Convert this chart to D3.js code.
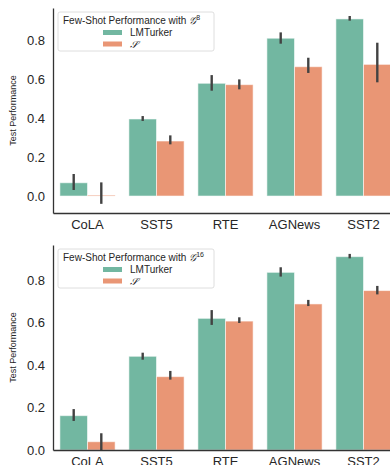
<!DOCTYPE html>
<meta charset="utf-8">
<style>
body { margin: 0; background: #fff; }
text { font-family: 'Liberation Sans', Arial, sans-serif; fill: #262626; }
.tick-label { font-size: 13px; }
.ylabel { font-size: 9px; }
.legend-text { font-size: 10px; }
</style>
<div id="chart"></div>
<script src="https://d3js.org/d3.v7.min.js"></script>
<script>
var tasks = ['CoLA', 'SST5', 'RTE', 'AGNews', 'SST2']
var methods = ['LMTurker', 'S']
var colors = ['#72b7a1', '#e99675']
var yTicks = [0.0, 0.2, 0.4, 0.6, 0.8]

// G^8 panel
var lmt8 = [0.068, 0.395, 0.578, 0.809, 0.908]
var lmt8Lo = [0.031, 0.385, 0.54, 0.781, 0.899]
var lmt8Hi = [0.113, 0.41, 0.62, 0.839, 0.923]
var s8 = [0.005, 0.282, 0.571, 0.663, 0.675]
var s8Lo = [-0.04, 0.265, 0.547, 0.631, 0.583]
var s8Hi = [0.07, 0.311, 0.598, 0.709, 0.786]

// G^16 panel
var lmt16 = [0.162, 0.442, 0.621, 0.838, 0.912]
var lmt16Lo = [0.137, 0.426, 0.59, 0.818, 0.904]
var lmt16Hi = [0.193, 0.459, 0.66, 0.862, 0.925]
var s16 = [0.039, 0.346, 0.608, 0.689, 0.752]
var s16Lo = [0.0, 0.332, 0.599, 0.679, 0.734]
var s16Hi = [0.079, 0.373, 0.626, 0.708, 0.774]

var svg = d3.select('#chart')
  .append('svg')
  .attr('width', 390)
  .attr('height', 465)

function panel(opts) {
  var g = svg.append('g')

  var x = d3.scaleBand()
    .domain(tasks)
    .range([53, 398])
    .paddingInner(0)
    .paddingOuter(0)

  var xInner = d3.scaleBand()
    .domain(methods)
    .range([0, x.bandwidth()])
    .paddingInner(0)
    .paddingOuter(0.25)

  var y = d3.scaleLinear()
    .domain(opts.yDomain)
    .range([opts.bottom, opts.top])

  var series = [
    { vals: opts.lmt, lo: opts.lmtLo, hi: opts.lmtHi },
    { vals: opts.s, lo: opts.sLo, hi: opts.sHi }
  ]

  series.forEach(function(s, i) {
    var rows = tasks.map(function(t, j) {
      return { task: t, v: s.vals[j], lo: s.lo[j], hi: s.hi[j] }
    })

    g.selectAll('.bar-' + i)
      .data(rows)
      .enter()
      .append('rect')
      .attr('x', d => x(d.task) + xInner(methods[i]))
      .attr('width', xInner.bandwidth())
      .attr('y', d => Math.min(y(d.v), y(0)))
      .attr('height', d => Math.max(Math.abs(y(0) - y(d.v)), 1))
      .attr('fill', colors[i])
      .attr('stroke', '#ffffff')
      .attr('stroke-opacity', 0.55)
      .attr('stroke-width', 1)

    g.selectAll('.err-' + i)
      .data(rows)
      .enter()
      .append('line')
      .attr('x1', d => x(d.task) + xInner(methods[i]) + xInner.bandwidth() / 2)
      .attr('x2', d => x(d.task) + xInner(methods[i]) + xInner.bandwidth() / 2)
      .attr('y1', d => y(d.lo))
      .attr('y2', d => y(d.hi))
      .attr('stroke', '#424242')
      .attr('stroke-width', 2.4)
  })

  // axes (spines only, no tick marks)
  var yAxis = d3.axisLeft(y).tickValues(yTicks).tickFormat(d3.format('.1f')).tickSize(0).tickPadding(8)
  var ya = g.append('g')
    .attr('transform', 'translate(53,0)')
    .call(yAxis)
  ya.select('.domain').attr('stroke', '#333').attr('stroke-width', 1.3)
  ya.selectAll('text').attr('class', 'tick-label').attr('fill', '#262626')
  ya.attr('font-family', null).attr('font-size', null)

  var xAxis = d3.axisBottom(x).tickSize(0).tickPadding(7)
  var xa = g.append('g')
    .attr('transform', 'translate(0,' + opts.bottom + ')')
    .call(xAxis)
  xa.select('.domain').attr('stroke', '#333').attr('stroke-width', 1.3)
  xa.selectAll('text').attr('class', 'tick-label').attr('fill', '#262626')
  xa.attr('font-family', null).attr('font-size', null)

  g.append('text')
    .attr('class', 'ylabel')
    .attr('transform', 'translate(16,' + ((opts.top + opts.bottom) / 2) + ') rotate(-90)')
    .attr('text-anchor', 'middle')
    .text('Test Performance')

  // legend
  var lg = g.append('g').attr('transform', 'translate(58,' + (opts.top + 4) + ')')
  lg.append('rect')
    .attr('width', 156)
    .attr('height', 39)
    .attr('rx', 2)
    .attr('fill', '#fff')
    .attr('fill-opacity', 0.8)
    .attr('stroke', '#d5d5d5')
    .attr('stroke-width', 0.8)

  var title = lg.append('text')
    .attr('class', 'legend-text')
    .attr('x', 5)
    .attr('y', 12)
  title.append('tspan').text('Few-Shot Performance with ')
  title.append('tspan').style('font-family', "'DejaVu Serif', serif").style('font-style', 'italic').text('𝒢')
  title.append('tspan').attr('dy', -4).style('font-size', '7px').text(opts.sup)

  methods.forEach(function(m, i) {
    lg.append('rect')
      .attr('x', 45)
      .attr('y', 18 + i * 11.5)
      .attr('width', 19)
      .attr('height', 5)
      .attr('fill', colors[i])
    var t = lg.append('text')
      .attr('class', 'legend-text')
      .attr('x', 72)
      .attr('y', 24 + i * 11.5)
    if (m === 'S') {
      t.style('font-family', "'DejaVu Serif', serif").style('font-style', 'italic').text('𝒮')
    } else {
      t.text(m)
    }
  })
}

panel({
  top: 8, bottom: 213, yDomain: [-0.087, 0.964], sup: '8',
  lmt: lmt8, lmtLo: lmt8Lo, lmtHi: lmt8Hi, s: s8, sLo: s8Lo, sHi: s8Hi
})

panel({
  top: 245, bottom: 450, yDomain: [0, 0.967], sup: '16',
  lmt: lmt16, lmtLo: lmt16Lo, lmtHi: lmt16Hi, s: s16, sLo: s16Lo, sHi: s16Hi
})
</script>
